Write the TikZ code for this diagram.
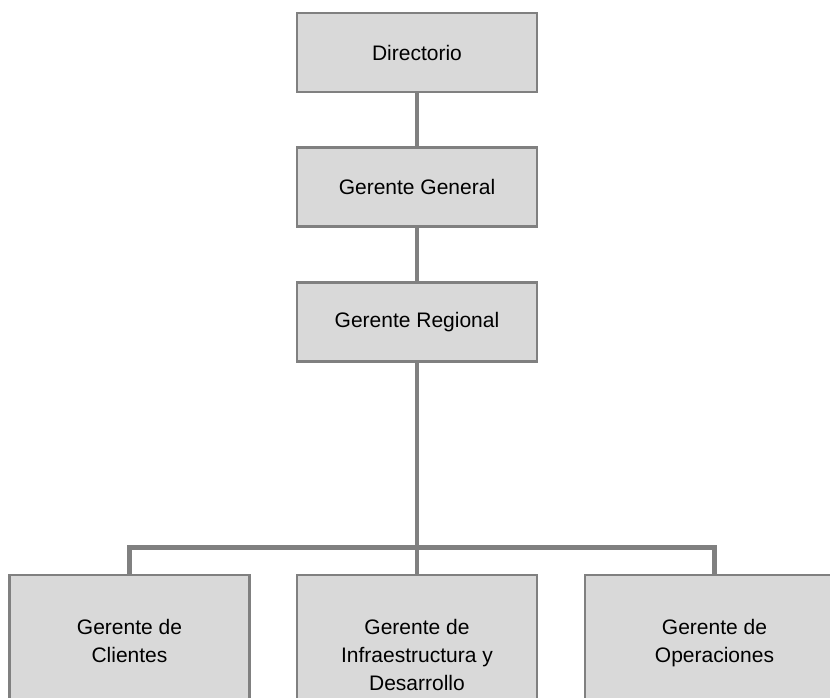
\documentclass[tikz,border=0pt]{standalone}
\usepackage{fontspec}
\setmainfont{Liberation Sans}
\usepackage{xcolor}
\usepackage{tikz}
\definecolor{boxfill}{HTML}{D9D9D9}
\definecolor{edge}{HTML}{808080}
\definecolor{ink}{HTML}{000000}
\tikzset{
  rolebox/.style={draw=edge, line width=2.5pt, fill=boxfill, text=ink,
    minimum width=240pt, minimum height=79pt, inner sep=0pt, align=center,
    font=\fontsize{21}{28}\selectfont},
  lowbox/.style={rolebox, minimum height=132pt},
  link/.style={draw=edge, line width=4.8pt}
}
\begin{document}
\begin{tikzpicture}[x=1pt, y=-1pt]
  \useasboundingbox (0,0) rectangle (830,698);
  \clip (0,0) rectangle (830,698);

  % top chain
  \node[rolebox] (dir) at (417,52.5) {Directorio};
  \node[rolebox] (gen) at (417,187) {Gerente General};
  \node[rolebox] (reg) at (417,322) {Gerente Regional};

  % bottom row (all run past the page edge)
  \node[lowbox] (cli) at (129.5,641) {Gerente de\\Clientes};
  \node[lowbox, minimum height=160pt] (inf) at (417,655) {Gerente de\\Infraestructura y\\Desarrollo};
  \node[lowbox, minimum width=259pt, minimum height=136pt] (ope) at (714.5,643) {Gerente de\\Operaciones};

  \coordinate (bus) at (417,547.5);

  \draw[link] (dir.south) -- (gen.north);
  \draw[link] (gen.south) -- (reg.north);
  \draw[link] (reg.south) -- (bus);
  \draw[link] (cli.north) |- (bus) -| (ope.north);
  \draw[link] (bus) -- (inf.north);
\end{tikzpicture}
\end{document}
